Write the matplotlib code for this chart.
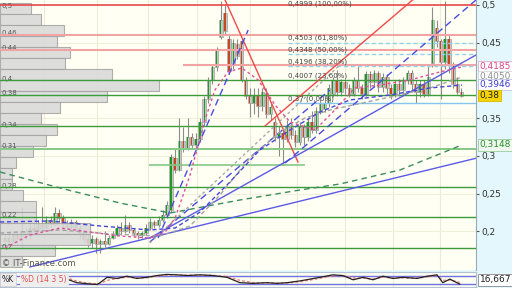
import numpy as np
import matplotlib
matplotlib.use("Agg")
import matplotlib.pyplot as plt
from matplotlib.transforms import blended_transform_factory

# -------------------------------
# 1. PRICE DATA (daily candles)
# -------------------------------
opens = [.188, .192, .186, .195, .190, .200, .196, .205, .200, .210,
         .205, .215, .210, .225, .218, .210, .205, .212, .205, .198,
         .190, .185, .190, .183, .188, .184, .192, .196, .205, .200,
         .208, .202, .198, .195, .198, .205, .212, .208, .215, .222,
         .228, .298, .282, .320, .310, .325, .315, .322, .345, .375,
         .400, .418, .458, .490, .455, .420, .448, .452, .400, .380,
         .370, .380, .366, .383, .355, .345, .325, .330, .322, .340,
         .328, .318, .338, .325, .345, .335, .360, .362, .370, .382,
         .400, .385, .398, .390, .382, .400, .390, .382, .408, .398,
         .410, .392, .405, .390, .382, .395, .388, .400, .410, .395,
         .385, .395, .382, .423, .470, .452, .424, .455, .420, .395,
         .385]
closes = [.192, .186, .195, .190, .200, .196, .205, .200, .210, .205,
          .215, .210, .225, .218, .210, .205, .212, .205, .198, .190,
          .185, .190, .183, .188, .184, .192, .196, .205, .200, .208,
          .202, .198, .195, .198, .205, .212, .208, .215, .222, .235,
          .298, .282, .320, .310, .325, .315, .322, .345, .375, .400,
          .418, .440, .480, .465, .412, .450, .432, .400, .380, .370,
          .380, .366, .385, .355, .365, .325, .330, .322, .340, .328,
          .318, .338, .325, .345, .335, .360, .370, .370, .390, .400,
          .385, .398, .390, .382, .400, .390, .382, .408, .398, .410,
          .392, .405, .390, .382, .395, .388, .400, .410, .395, .385,
          .395, .382, .405, .480, .452, .424, .455, .420, .395, .385,
          .380]
highs = [.196, .200, .200, .198, .232, .205, .210, .212, .215, .232,
         .220, .220, .232, .230, .222, .215, .216, .215, .208, .200,
         .195, .195, .193, .190, .200, .195, .200, .208, .212, .222,
         .212, .205, .200, .200, .210, .218, .215, .220, .228, .240,
         .302, .310, .350, .338, .350, .330, .330, .350, .380, .405,
         .420, .445, .505, .500, .460, .455, .455, .455, .405, .390,
         .390, .390, .390, .390, .372, .350, .340, .335, .348, .350,
         .335, .345, .342, .350, .360, .365, .375, .378, .395, .404,
         .414, .402, .400, .395, .405, .420, .395, .412, .413, .414,
         .412, .410, .408, .395, .400, .402, .404, .414, .414, .400,
         .400, .400, .420, .497, .480, .455, .505, .460, .425, .405,
         .390]
lows = [.183, .182, .184, .183, .178, .190, .190, .196, .196, .200,
        .200, .205, .208, .212, .200, .198, .200, .200, .190, .185,
        .180, .178, .172, .172, .180, .182, .190, .194, .196, .198,
        .198, .193, .190, .192, .195, .202, .204, .206, .212, .218,
        .226, .278, .280, .305, .308, .310, .310, .318, .340, .370,
        .395, .412, .455, .460, .408, .415, .428, .398, .375, .352,
        .355, .352, .360, .350, .348, .320, .300, .2885, .318, .322,
        .312, .315, .315, .320, .330, .330, .355, .358, .365, .378,
        .380, .380, .382, .378, .380, .385, .375, .380, .390, .392,
        .385, .385, .382, .375, .378, .380, .380, .395, .385, .370,
        .378, .378, .380, .418, .445, .375, .415, .410, .390, .382,
        .378]

# month separators (candle index)
month_starts = [9.4, 22.2, 34.5, 46.3, 59.0, 70.4, 81.9, 93.5, 104.8]

# -------------------------------
# 2. VOLUME PROFILE (left side)
# -------------------------------
vp_top = 0.5027
vp_step = 0.01457
vp_volume = [31, 41, 64, 57, 70, 65, 112, 159, 107, 60, 41, 57, 46, 33,
             16, 12, 12, 23, 36, 36, 90, 90, 55, 22]
vp_labels = ["0,5", "0,46", "0,44", "0,4", "0,38", "0,34", "0,31", "0,28", "0,22", "0,2"]
vp_label_y = [0.5027, 0.4669, 0.4470, 0.4060, 0.3874, 0.3450, 0.3172, 0.2642, 0.2258, 0.1834]

# -------------------------------
# 3. LEVELS, FIBONACCI, TRENDLINES
# -------------------------------
green_levels = [0.4007, 0.3804, 0.3397, 0.2590, 0.2190, 0.1785]
pink_levels = [0.4607, 0.4404]
fib_values = [0.4999, 0.4503, 0.4348, 0.4196, 0.4007, 0.37]
fib_labels = ["0,4999 (100,00%)", "0,4503 (61,80%)", "0,4348 (50,00%)",
              "0,4196 (38,20%)", "0,4007 (23,60%)", "0,37 (0,00%)"]

# trend lines: (x0, y0, x1, y1) in candle index / price
red_lines = [(53.0, 0.507, 70.6, 0.292), (62.7, 0.340, 100.0, 0.515)]
blue_solid = [(6.0, 0.153, 113.5, 0.297), (34.9, 0.1914, 113.5, 0.4338)]
blue_dashed = [(36.9, 0.1914, 58.6, 0.4669), (67.5, 0.2907, 113.5, 0.5066),
               (34.9, 0.1861, 78.3, 0.3874)]
gray_fan = [(34.9, 0.1848, 80.7, 0.4205)]

# moving averages (index, price)
ma_green_x = [-1.2, 13.3, 27.7, 39.8, 56.6, 71.1, 80.7, 95.2, 110.1]
ma_green_y = [0.2788, 0.2576, 0.2377, 0.2245, 0.2417, 0.2550, 0.2629, 0.2815, 0.3146]
ma_pink_x = [0, 6.0, 13.3, 20.5, 27.7, 34.9, 38.6, 41.0, 44.6, 48.2, 50.6, 53.7,
             57.1, 61.0, 65.1, 68.7, 74.7, 79.5, 84.3, 90.4, 97.6, 104.8, 110.1]
ma_pink_y = [0.1781, 0.1954, 0.2046, 0.1993, 0.1940, 0.1914, 0.1993, 0.2179, 0.2748,
             0.3477, 0.3874, 0.4113, 0.4166, 0.4007, 0.3675, 0.3450, 0.3344, 0.3609,
             0.3901, 0.3940, 0.4007, 0.4113, 0.4179]
ma_blue_x = [-1.2, 10.8, 22.9, 34.9, 41.0, 47.0, 54.2, 61.4, 68.7, 75.9, 83.1, 92.8, 102.4, 110.1]
ma_blue_y = [0.2126, 0.2139, 0.2073, 0.2020, 0.2046, 0.2258, 0.2656, 0.3079, 0.3344,
             0.3583, 0.3742, 0.3808, 0.3901, 0.3940]
ma_gray_x = [-1.2, 13.3, 25.3, 37.3, 44.6, 51.8, 59.0, 66.3, 72.3, 78.3, 92.8, 102.4, 110.1]
ma_gray_y = [0.1980, 0.2020, 0.1967, 0.1940, 0.2073, 0.2483, 0.2974, 0.3318, 0.3503,
             0.3609, 0.3781, 0.3901, 0.4046]

# stochastic (14 3 5)
stoch_x = [13.3, 14.9, 17.3, 19.8, 22.2, 22.9, 24.6, 27.0, 29.4, 31.8, 34.2, 36.6, 39.0,
           41.4, 43.9, 47.0, 50.1, 53.5, 56.6, 59.8, 63.1, 65.5, 68.0, 71.1, 73.5, 75.9,
           79.0, 81.4, 83.9, 86.3, 88.7, 91.1, 93.5, 95.9, 99.3, 101.7, 104.1, 105.5,
           107.2, 109.6]
stoch_k = [80, 54, 28, 20, 15, 28, 67, 59, 75, 59, 67, 80, 88, 85, 80, 85, 80, 67, 28, 23,
           28, 23, 28, 41, 54, 67, 85, 80, 49, 67, 49, 75, 59, 67, 59, 75, 85, 28, 54, 17]
stoch_d = [75, 62, 40, 25, 20, 22, 45, 58, 68, 63, 64, 74, 84, 86, 82, 83, 82, 72, 45, 28,
           26, 25, 26, 35, 47, 60, 78, 80, 62, 62, 55, 68, 62, 63, 62, 70, 80, 45, 48, 30]

# -------------------------------
# 4. FIGURE
# -------------------------------
W, H = 512, 288
fig = plt.figure(figsize=(W / 100, H / 100), dpi=100)
fig.patch.set_facecolor("#e3f7fc")

ax = fig.add_axes([0, 1 - 270 / H, 476 / W, 270 / H])
ax.set_facecolor("#fffff3")
XMIN, XMAX = -1.2, 113.5
YTOP = 0.5066
ax.set_xlim(XMIN, XMAX)
ax.set_ylim(0.149, YTOP)

for s in ["top", "left", "bottom"]:
    ax.spines[s].set_visible(False)
ax.spines["right"].set_color("#9aa8b8")

ax.set_xticks(month_starts)
ax.tick_params(axis="x", length=0, labelbottom=False)
ax.grid(axis="x", color="#ecebd6", lw=0.8)
ax.yaxis.tick_right()
ticks = [0.2, 0.25, 0.3, 0.35, 0.45, 0.5]
ax.set_yticks(ticks)
ax.set_yticklabels([f"{t:g}".replace(".", ",") for t in ticks], fontsize=6.5, color="#333333")
ax.tick_params(axis="y", length=2, pad=2, color="#555555")
ax.grid(axis="y", color="#efefdc", lw=0.8)

# candles
x = np.arange(len(closes))
o = np.array(opens)
c = np.array(closes)
lo_body = np.minimum(o, c)
hi_body = np.maximum(o, c)
body_h = np.maximum(hi_body - lo_body, 0.002)
ax.vlines(x, lows, highs, color="#8c8c8c", lw=0.8, zorder=2)
ax.bar(x, body_h, bottom=lo_body, width=0.85, color="#c6c6c6", edgecolor="#8e8e8e",
       lw=0.4, zorder=2)
cols = np.where(c >= o, "#1e9a22", "#c8481e")
ax.bar(x, body_h, bottom=lo_body, width=0.32, color=cols, lw=0, zorder=2.1)

# volume profile
vp_scale = (XMAX - XMIN) / 476
vp_bottoms = [vp_top - (k + 1) * vp_step for k in range(len(vp_volume))]
ax.barh(vp_bottoms, [v * vp_scale for v in vp_volume], height=vp_step, left=XMIN,
        align="edge", color="#d9d9d9", edgecolor="#a4a4a4", lw=0.8, alpha=0.88, zorder=3)
for lab, yy in zip(vp_labels, vp_label_y):
    ax.text(XMIN + 0.3, min(yy, YTOP - 0.001), lab, fontsize=5, color="#555555",
            va="top", ha="left", zorder=3.5)

# horizontal levels
for lv in green_levels:
    ax.axhline(lv, color="#3c9c3c", lw=1, zorder=4)
ax.axhline(0.309, color="#86c886", lw=1.4, zorder=4)
ax.hlines(0.2885, 34.8, 72.3, color="#86c886", lw=1.2, zorder=4)
ax.axhline(0.4999, color="#e83c3c", lw=1.1, zorder=4)
for lv in pink_levels:
    ax.axhline(lv, color="#f2a4a4", lw=1.5, zorder=4)
ax.hlines(0.4209, 42.9, XMAX, color="#f2a4a4", lw=1.5, zorder=4)
for lv in fib_values[1:4]:
    ax.hlines(lv, 68.2, XMAX, color="#8fd2f2", lw=1, linestyles=(0, (3, 2)), zorder=4)
ax.hlines(0.37, 69.9, XMAX, color="#86c6ee", lw=1, zorder=4)
for lv, lab in zip(fib_values, fib_labels):
    if lv + 0.0015 + 0.008 > YTOP:
        ax.text(68.2, YTOP - 0.0003, lab, fontsize=5, color="#444444", va="top", ha="left", zorder=5)
    else:
        ax.text(68.2, lv + 0.0015, lab, fontsize=5, color="#444444", va="bottom", ha="left", zorder=5)

# trend lines
for x0, y0, x1, y1 in red_lines:
    ax.plot([x0, x1], [y0, y1], color="#f04a4a", lw=1, zorder=4)
for x0, y0, x1, y1 in blue_solid:
    ax.plot([x0, x1], [y0, y1], color="#5a5ae6", lw=1, zorder=4)
for x0, y0, x1, y1 in blue_dashed:
    ax.plot([x0, x1], [y0, y1], color="#4a4ae2", lw=1, dashes=(5, 3), zorder=4)
for x0, y0, x1, y1 in gray_fan:
    ax.plot([x0, x1], [y0, y1], color="#a8a8a8", lw=1, dashes=(2, 2), zorder=4)

# moving averages
ax.plot(ma_green_x, ma_green_y, color="#3c8c5c", lw=1, dashes=(4, 3), zorder=4)
ax.plot(ma_gray_x, ma_gray_y, color="#a4a4a4", lw=1, dashes=(3, 2), zorder=4)
ax.plot(ma_blue_x, ma_blue_y, color="#4646d8", lw=1, dashes=(3, 2), zorder=4)
ax.plot(ma_pink_x, ma_pink_y, color="#e0509a", lw=1, dashes=(2, 2), zorder=4)

# right-hand value labels
tr = blended_transform_factory(ax.transAxes, ax.transData)
value_tags = [("0,4185", 0.4185, "#e0408a", "white", "#e0b0c8"),
              ("0,4050", 0.4050, "#909090", "white", "#d8d8d8"),
              ("0,3946", 0.3946, "#3a3ad0", "white", "#c0c0e8"),
              ("0,38", 0.3800, "#222222", "#f5d400", "#d8b800"),
              ("0,3148", 0.3148, "#2c8c2c", "#eef8ee", "#9ccc9c")]
for txt, yy, fc, bg, ec in value_tags:
    ax.text(1.008, yy, txt, transform=tr, fontsize=6.5, color=fc, va="center", ha="left",
            bbox=dict(boxstyle="square,pad=0.15", fc=bg, ec=ec, lw=0.6), clip_on=False)

ax.text(0.004, 0.008, "© IT-Finance.com", transform=ax.transAxes, fontsize=6,
        color="#555555", va="bottom", ha="left", zorder=5)

# -------------------------------
# 5. STOCHASTIC PANEL
# -------------------------------
sx = fig.add_axes([0, 1 - 287 / H, 476 / W, 15 / H])
sx.set_facecolor("#fffff3")
sx.set_xlim(XMIN, XMAX)
sx.set_ylim(-3.4, 105.7)
sx.set_xticks(month_starts)
sx.set_yticks([])
sx.tick_params(axis="x", length=0, labelbottom=False)
sx.grid(axis="x", color="#ecebd6", lw=0.8)
for s in sx.spines.values():
    s.set_color("#b4c0d4")
sx.axhline(80, color="#7070e0", lw=1)
sx.axhline(20, color="#7070e0", lw=1)
sx.plot(stoch_x, stoch_d, color="#f08080", lw=1, dashes=(2, 1.5))
sx.plot(stoch_x, stoch_k, color="#222222", lw=0.9)
sx.text(0.004, 0.5, "%K", transform=sx.transAxes, fontsize=5.5, color="#222222",
        va="center", ha="left", bbox=dict(boxstyle="square,pad=0.2", fc="#eeeeee", ec="#cccccc", lw=0.5))
sx.text(0.045, 0.5, "%D (14 3 5)", transform=sx.transAxes, fontsize=5.5, color="#e05050",
        va="center", ha="left", bbox=dict(boxstyle="square,pad=0.2", fc="#eeeeee", ec="#eeeeee", lw=0.5))
trs = blended_transform_factory(sx.transAxes, sx.transData)
sx.text(1.008, 50, "16,667", transform=trs, fontsize=6.5, color="#222222", va="center",
        ha="left", bbox=dict(boxstyle="square,pad=0.15", fc="white", ec="#888888", lw=0.6),
        clip_on=False)

fig.savefig("out.png", dpi=100, facecolor=fig.get_facecolor())
plt.close(fig)
